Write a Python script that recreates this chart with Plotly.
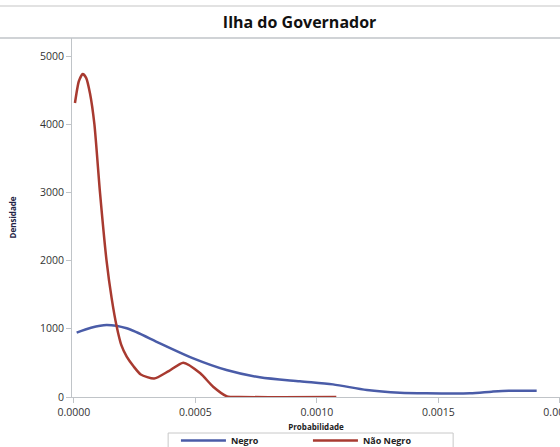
import plotly.graph_objs as go

# Densidade estimada por grupo
negro_x = [0.000011, 0.00007, 0.000134, 0.000217, 0.000354, 0.000491, 0.000628,
           0.000765, 0.00093, 0.001066, 0.001206, 0.001342, 0.00145, 0.00163,
           0.00172, 0.00179, 0.001905]
negro_y = [943, 1015, 1056, 1007, 787, 567, 396, 289, 230, 185, 103, 63, 54, 54,
           78, 92, 92]

nao_negro_x = [0.000004, 0.00002, 0.000036, 0.00005, 0.000066, 0.000084, 0.000107,
               0.000134, 0.000155, 0.000176, 0.000195, 0.000217, 0.000245, 0.000275,
               0.00033, 0.00039, 0.00045, 0.00052, 0.000573, 0.00063, 0.00068, 0.00108]
nao_negro_y = [4310, 4630, 4736, 4680, 4450, 4000, 3000, 2000, 1450, 1030, 760, 591,
               450, 330, 270, 380, 503, 347, 151, 10, 0, 0]

y_ticks = [0, 1000, 2000, 3000, 4000, 5000]
x_ticks = [0.0, 0.0005, 0.0010, 0.0015, 0.0020]

fig = go.Figure()

fig.add_trace(go.Scatter(
    x=negro_x, y=negro_y, name='Negro', mode='lines',
    line=dict(color='#4a5ca8', width=2.5, shape='spline', smoothing=0.8)
))
fig.add_trace(go.Scatter(
    x=nao_negro_x, y=nao_negro_y, name='Não Negro', mode='lines',
    line=dict(color='#a83a30', width=2.5, shape='spline', smoothing=0.6)
))

fig.update_layout(
    width=560, height=447,
    margin=dict(l=72, r=0, t=38, b=50, autoexpand=False),
    paper_bgcolor='white', plot_bgcolor='white',
    font=dict(family='Open Sans, Arial, sans-serif', color='#333333', size=10),
    title=dict(text='<b>Ilha do Governador</b>', x=0.535, xanchor='center',
               y=0.95, yanchor='middle',
               font=dict(family='Open Sans', size=16, color='#111111')),
    showlegend=True,
    # legenda sem borda; a caixa é desenhada à parte (shape) para ficar mais alta
    legend=dict(orientation='h', x=0.213, xanchor='left', y=-0.0808, yanchor='top',
                bgcolor='rgba(0,0,0,0)', borderwidth=0, entrywidth=72, itemwidth=45,
                font=dict(size=9, color='#222222', weight='bold'), tracegroupgap=0),
    xaxis=dict(range=[-0.0000082, 0.002001], tickvals=x_ticks, tickformat='.4f',
               showgrid=False, zeroline=False, showline=True, linecolor='#c0c4c8',
               ticks='outside', ticklen=5, tickcolor='#c0c4c8', automargin=False,
               ticklabeloverflow='allow',
               title=dict(text='<b>Probabilidade</b>', font=dict(size=8, color='#222222'),
                          standoff=6),
               tickfont=dict(size=10.5, color='#333333')),
    yaxis=dict(range=[0, 5264], tickvals=y_ticks, showgrid=False, zeroline=False,
               showline=True, linecolor='#c0c4c8', mirror=False, automargin=False,
               ticks='outside', ticklen=5, tickcolor='#c0c4c8',
               title=dict(text='<b>Densidade</b>', font=dict(size=8, color='#222244'),
                          standoff=22),
               tickfont=dict(size=10.5, color='#333333')),
    shapes=[
        dict(type='line', xref='paper', yref='paper', x0=-0.2, x1=1.0, y0=1.0, y1=1.0,
             line=dict(color='#c0c4c8', width=1.5)),
        dict(type='line', xref='paper', yref='paper', x0=-0.2, x1=1.0, y0=1.089, y1=1.089,
             line=dict(color='#d8d8d8', width=1.5)),
        dict(type='rect', xref='paper', yref='paper', x0=0.197, x1=0.781,
             y0=-0.1003, y1=-0.2, line=dict(color='#c8c8c8', width=1)),
    ]
)

# a página tem margem de 8px no body; tira para o gráfico ocupar a janela toda
fig.write_html("out.html", config={'displayModeBar': False},
               post_script="document.body.style.margin='0px';")
